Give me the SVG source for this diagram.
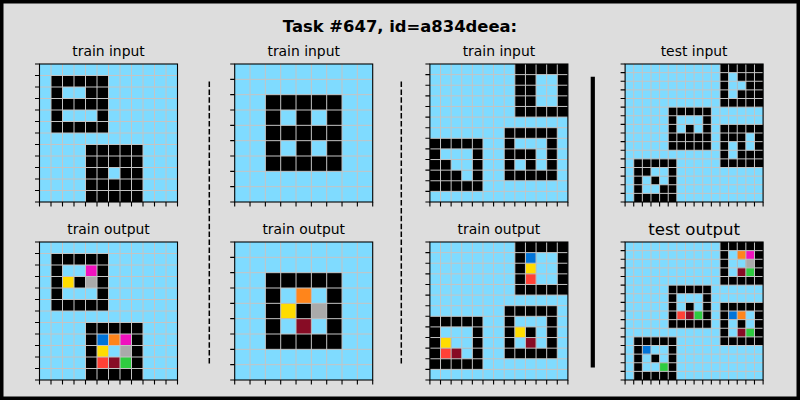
<svg xmlns="http://www.w3.org/2000/svg" xmlns:xlink="http://www.w3.org/1999/xlink" width="800" height="400" viewBox="0 0 800 400">
<style>
.bg,.h{fill:#7FDBFF}
.k{fill:#000000}.b{fill:#0074D9}.r{fill:#FF4136}.g{fill:#2ECC40}.y{fill:#FFDC00}
.x{fill:#AAAAAA}.m{fill:#F012BE}.o{fill:#FF851B}.w{fill:#870C25}
.gl{fill:none;stroke:#c4c4c4;stroke-width:1}
.sp{fill:none;stroke:#000;stroke-width:1.1}
.tk{fill:none;stroke:#000;stroke-width:1.1}
.st{font-family:"DejaVu Sans","Liberation Sans",sans-serif;font-size:13.9px;fill:#000;text-anchor:middle}
.stl{font-family:"DejaVu Sans","Liberation Sans",sans-serif;font-size:16.6px;fill:#000;text-anchor:middle}
.title{font-family:"DejaVu Sans","Liberation Sans",sans-serif;font-size:16.4px;font-weight:bold;fill:#000;text-anchor:middle}
</style>
<defs>
<path id="gl12" class="gl" d="M11.5 0V138M23 0V138M34.5 0V138M46 0V138M57.5 0V138M69 0V138M80.5 0V138M92 0V138M103.5 0V138M115 0V138M126.5 0V138M0 11.5H138M0 23H138M0 34.5H138M0 46H138M0 57.5H138M0 69H138M0 80.5H138M0 92H138M0 103.5H138M0 115H138M0 126.5H138"/>
<path id="gl9" class="gl" d="M15.33 0V138M30.67 0V138M46 0V138M61.33 0V138M76.67 0V138M92 0V138M107.33 0V138M122.67 0V138M0 15.33H138M0 30.67H138M0 46H138M0 61.33H138M0 76.67H138M0 92H138M0 107.33H138M0 122.67H138"/>
<path id="gl13" class="gl" d="M10.62 0V138M21.23 0V138M31.85 0V138M42.46 0V138M53.08 0V138M63.69 0V138M74.31 0V138M84.92 0V138M95.54 0V138M106.15 0V138M116.77 0V138M127.38 0V138M0 10.62H138M0 21.23H138M0 31.85H138M0 42.46H138M0 53.08H138M0 63.69H138M0 74.31H138M0 84.92H138M0 95.54H138M0 106.15H138M0 116.77H138M0 127.38H138"/>
<path id="gl16" class="gl" d="M8.63 0V138M17.25 0V138M25.88 0V138M34.5 0V138M43.13 0V138M51.75 0V138M60.38 0V138M69 0V138M77.63 0V138M86.25 0V138M94.88 0V138M103.5 0V138M112.13 0V138M120.75 0V138M129.38 0V138M0 8.63H138M0 17.25H138M0 25.88H138M0 34.5H138M0 43.13H138M0 51.75H138M0 60.38H138M0 69H138M0 77.63H138M0 86.25H138M0 94.88H138M0 103.5H138M0 112.13H138M0 120.75H138M0 129.38H138"/>
<path id="tk12" class="tk" d="M-4.5 0H0M-4.5 11.5H0M-4.5 23H0M-4.5 34.5H0M-4.5 46H0M-4.5 57.5H0M-4.5 69H0M-4.5 80.5H0M-4.5 92H0M-4.5 103.5H0M-4.5 115H0M-4.5 126.5H0M-4.5 138H0M0 138V142.5M11.5 138V142.5M23 138V142.5M34.5 138V142.5M46 138V142.5M57.5 138V142.5M69 138V142.5M80.5 138V142.5M92 138V142.5M103.5 138V142.5M115 138V142.5M126.5 138V142.5M138 138V142.5"/>
<path id="tk9" class="tk" d="M-4.5 0H0M-4.5 15.33H0M-4.5 30.67H0M-4.5 46H0M-4.5 61.33H0M-4.5 76.67H0M-4.5 92H0M-4.5 107.33H0M-4.5 122.67H0M-4.5 138H0M0 138V142.5M15.33 138V142.5M30.67 138V142.5M46 138V142.5M61.33 138V142.5M76.67 138V142.5M92 138V142.5M107.33 138V142.5M122.67 138V142.5M138 138V142.5"/>
<path id="tk13" class="tk" d="M-4.5 0H0M-4.5 10.62H0M-4.5 21.23H0M-4.5 31.85H0M-4.5 42.46H0M-4.5 53.08H0M-4.5 63.69H0M-4.5 74.31H0M-4.5 84.92H0M-4.5 95.54H0M-4.5 106.15H0M-4.5 116.77H0M-4.5 127.38H0M-4.5 138H0M0 138V142.5M10.62 138V142.5M21.23 138V142.5M31.85 138V142.5M42.46 138V142.5M53.08 138V142.5M63.69 138V142.5M74.31 138V142.5M84.92 138V142.5M95.54 138V142.5M106.15 138V142.5M116.77 138V142.5M127.38 138V142.5M138 138V142.5"/>
<path id="tk16" class="tk" d="M-4.5 0H0M-4.5 8.63H0M-4.5 17.25H0M-4.5 25.88H0M-4.5 34.5H0M-4.5 43.13H0M-4.5 51.75H0M-4.5 60.38H0M-4.5 69H0M-4.5 77.63H0M-4.5 86.25H0M-4.5 94.88H0M-4.5 103.5H0M-4.5 112.13H0M-4.5 120.75H0M-4.5 129.38H0M-4.5 138H0M0 138V142.5M8.63 138V142.5M17.25 138V142.5M25.88 138V142.5M34.5 138V142.5M43.13 138V142.5M51.75 138V142.5M60.38 138V142.5M69 138V142.5M77.63 138V142.5M86.25 138V142.5M94.88 138V142.5M103.5 138V142.5M112.13 138V142.5M120.75 138V142.5M129.38 138V142.5M138 138V142.5"/>
</defs>

<rect x="1.75" y="1.75" width="796.5" height="396.5" fill="#dddddd" stroke="#000" stroke-width="3.5"/>
<text class="title" x="400" y="32">Task #647, id=a834deea:</text>

<!-- Train 1 input -->
<g id="train1-input" transform="translate(39.5,64)">
<text class="st" x="69" y="-8">train input</text>
<g transform="scale(11.5)">
<rect class="bg" width="12" height="12"/>
<rect class="k" x="1" y="1" width="5" height="5"/>
<rect class="h" x="2" y="2" width="2" height="1"/>
<rect class="h" x="2" y="4" width="3" height="1"/>
<rect class="k" x="4" y="7" width="5" height="5"/>
<rect class="h" x="6" y="9" width="1" height="1"/>
</g>
<use xlink:href="#gl12"/><rect class="sp" width="138" height="138"/><use xlink:href="#tk12"/>
</g>

<!-- Train 1 output -->
<g id="train1-output" transform="translate(39.5,242)">
<text class="st" x="69" y="-8">train output</text>
<g transform="scale(11.5)">
<rect class="bg" width="12" height="12"/>
<rect class="k" x="1" y="1" width="5" height="5"/>
<rect class="h" x="2" y="2" width="2" height="1"/>
<rect class="h" x="2" y="4" width="3" height="1"/>
<rect class="m" x="4" y="2" width="1" height="1"/>
<rect class="y" x="2" y="3" width="1" height="1"/>
<rect class="x" x="4" y="3" width="1" height="1"/>
<rect class="k" x="4" y="7" width="5" height="5"/>
<rect class="h" x="6" y="9" width="1" height="1"/>
<rect class="b" x="5" y="8" width="1" height="1"/>
<rect class="o" x="6" y="8" width="1" height="1"/>
<rect class="m" x="7" y="8" width="1" height="1"/>
<rect class="y" x="5" y="9" width="1" height="1"/>
<rect class="x" x="7" y="9" width="1" height="1"/>
<rect class="r" x="5" y="10" width="1" height="1"/>
<rect class="w" x="6" y="10" width="1" height="1"/>
<rect class="g" x="7" y="10" width="1" height="1"/>
</g>
<use xlink:href="#gl12"/><rect class="sp" width="138" height="138"/><use xlink:href="#tk12"/>
</g>

<!-- Train 2 input -->
<g id="train2-input" transform="translate(234.7,64)">
<text class="st" x="69" y="-8">train input</text>
<g transform="scale(15.3333)">
<rect class="bg" width="9" height="9"/>
<rect class="k" x="2" y="2" width="5" height="5"/>
<rect class="h" x="3" y="3" width="1" height="1"/>
<rect class="h" x="5" y="3" width="1" height="1"/>
<rect class="h" x="3" y="5" width="1" height="1"/>
<rect class="h" x="5" y="5" width="1" height="1"/>
</g>
<use xlink:href="#gl9"/><rect class="sp" width="138" height="138"/><use xlink:href="#tk9"/>
</g>

<!-- Train 2 output -->
<g id="train2-output" transform="translate(234.7,242)">
<text class="st" x="69" y="-8">train output</text>
<g transform="scale(15.3333)">
<rect class="bg" width="9" height="9"/>
<rect class="k" x="2" y="2" width="5" height="5"/>
<rect class="h" x="3" y="3" width="1" height="1"/>
<rect class="h" x="5" y="3" width="1" height="1"/>
<rect class="h" x="3" y="5" width="1" height="1"/>
<rect class="h" x="5" y="5" width="1" height="1"/>
<rect class="o" x="4" y="3" width="1" height="1"/>
<rect class="y" x="3" y="4" width="1" height="1"/>
<rect class="x" x="5" y="4" width="1" height="1"/>
<rect class="w" x="4" y="5" width="1" height="1"/>
</g>
<use xlink:href="#gl9"/><rect class="sp" width="138" height="138"/><use xlink:href="#tk9"/>
</g>

<!-- Train 3 input -->
<g id="train3-input" transform="translate(429.9,64)">
<text class="st" x="69" y="-8">train input</text>
<g transform="scale(10.6154)">
<rect class="bg" width="13" height="13"/>
<rect class="k" x="8" y="0" width="5" height="5"/>
<rect class="h" x="10" y="1" width="2" height="3"/>
<rect class="k" x="7" y="6" width="5" height="5"/>
<rect class="h" x="8" y="7" width="3" height="1"/>
<rect class="h" x="10" y="8" width="1" height="2"/>
<rect class="h" x="8" y="9" width="1" height="1"/>
<rect class="k" x="0" y="7" width="5" height="5"/>
<rect class="h" x="1" y="8" width="3" height="1"/>
<rect class="h" x="2" y="9" width="2" height="1"/>
<rect class="h" x="3" y="10" width="1" height="1"/>
</g>
<use xlink:href="#gl13"/><rect class="sp" width="138" height="138"/><use xlink:href="#tk13"/>
</g>

<!-- Train 3 output -->
<g id="train3-output" transform="translate(429.9,242)">
<text class="st" x="69" y="-8">train output</text>
<g transform="scale(10.6154)">
<rect class="bg" width="13" height="13"/>
<rect class="k" x="8" y="0" width="5" height="5"/>
<rect class="h" x="10" y="1" width="2" height="3"/>
<rect class="b" x="9" y="1" width="1" height="1"/>
<rect class="y" x="9" y="2" width="1" height="1"/>
<rect class="r" x="9" y="3" width="1" height="1"/>
<rect class="k" x="7" y="6" width="5" height="5"/>
<rect class="h" x="8" y="7" width="3" height="1"/>
<rect class="h" x="10" y="8" width="1" height="2"/>
<rect class="h" x="8" y="9" width="1" height="1"/>
<rect class="y" x="8" y="8" width="1" height="1"/>
<rect class="w" x="9" y="9" width="1" height="1"/>
<rect class="k" x="0" y="7" width="5" height="5"/>
<rect class="h" x="1" y="8" width="3" height="1"/>
<rect class="h" x="2" y="9" width="2" height="1"/>
<rect class="h" x="3" y="10" width="1" height="1"/>
<rect class="y" x="1" y="9" width="1" height="1"/>
<rect class="r" x="1" y="10" width="1" height="1"/>
<rect class="w" x="2" y="10" width="1" height="1"/>
</g>
<use xlink:href="#gl13"/><rect class="sp" width="138" height="138"/><use xlink:href="#tk13"/>
</g>

<!-- Test input -->
<g id="test-input" transform="translate(625.1,64)">
<text class="st" x="69" y="-8">test input</text>
<g transform="scale(8.625)">
<rect class="bg" width="16" height="16"/>
<rect class="k" x="11" y="0" width="5" height="5"/>
<rect class="h" x="12" y="1" width="1" height="3"/>
<rect class="h" x="13" y="2" width="1" height="1"/>
<rect class="k" x="5" y="5" width="5" height="5"/>
<rect class="h" x="6" y="6" width="3" height="1"/>
<rect class="h" x="6" y="7" width="1" height="1"/>
<rect class="h" x="8" y="7" width="1" height="1"/>
<rect class="k" x="11" y="7" width="5" height="5"/>
<rect class="h" x="14" y="8" width="1" height="2"/>
<rect class="h" x="12" y="9" width="1" height="2"/>
<rect class="k" x="1" y="11" width="5" height="5"/>
<rect class="h" x="3" y="12" width="2" height="1"/>
<rect class="h" x="2" y="13" width="1" height="1"/>
<rect class="h" x="4" y="13" width="1" height="1"/>
<rect class="h" x="2" y="14" width="2" height="1"/>
</g>
<use xlink:href="#gl16"/><rect class="sp" width="138" height="138"/><use xlink:href="#tk16"/>
</g>

<!-- Test output -->
<g id="test-output" transform="translate(625.1,242)">
<text class="stl" x="69" y="-7">test output</text>
<g transform="scale(8.625)">
<rect class="bg" width="16" height="16"/>
<rect class="k" x="11" y="0" width="5" height="5"/>
<rect class="h" x="12" y="1" width="1" height="3"/>
<rect class="h" x="13" y="2" width="1" height="1"/>
<rect class="o" x="13" y="1" width="1" height="1"/>
<rect class="m" x="14" y="1" width="1" height="1"/>
<rect class="x" x="14" y="2" width="1" height="1"/>
<rect class="w" x="13" y="3" width="1" height="1"/>
<rect class="g" x="14" y="3" width="1" height="1"/>
<rect class="k" x="5" y="5" width="5" height="5"/>
<rect class="h" x="6" y="6" width="3" height="1"/>
<rect class="h" x="6" y="7" width="1" height="1"/>
<rect class="h" x="8" y="7" width="1" height="1"/>
<rect class="r" x="6" y="8" width="1" height="1"/>
<rect class="w" x="7" y="8" width="1" height="1"/>
<rect class="g" x="8" y="8" width="1" height="1"/>
<rect class="k" x="11" y="7" width="5" height="5"/>
<rect class="h" x="14" y="8" width="1" height="2"/>
<rect class="h" x="12" y="9" width="1" height="2"/>
<rect class="b" x="12" y="8" width="1" height="1"/>
<rect class="o" x="13" y="8" width="1" height="1"/>
<rect class="w" x="13" y="10" width="1" height="1"/>
<rect class="g" x="14" y="10" width="1" height="1"/>
<rect class="k" x="1" y="11" width="5" height="5"/>
<rect class="h" x="3" y="12" width="2" height="1"/>
<rect class="h" x="2" y="13" width="1" height="1"/>
<rect class="h" x="4" y="13" width="1" height="1"/>
<rect class="h" x="2" y="14" width="2" height="1"/>
<rect class="b" x="2" y="12" width="1" height="1"/>
<rect class="g" x="4" y="14" width="1" height="1"/>
</g>
<use xlink:href="#gl16"/><rect class="sp" width="138" height="138"/><use xlink:href="#tk16"/>
</g>

<g id="connectors">
<line x1="209.3" y1="81.5" x2="209.3" y2="366" stroke="#000" stroke-width="1.5" stroke-dasharray="5.5 2.4"/>
<line x1="401.3" y1="81.5" x2="401.3" y2="366" stroke="#000" stroke-width="1.5" stroke-dasharray="5.5 2.4"/>
<line x1="592.8" y1="76.7" x2="592.8" y2="367.5" stroke="#000" stroke-width="4.2"/>
</g>
</svg>
